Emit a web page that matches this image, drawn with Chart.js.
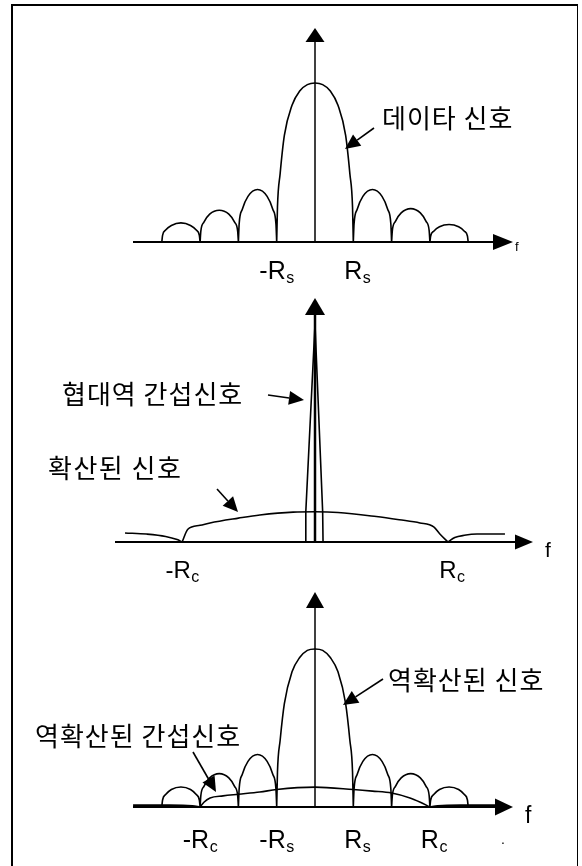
<!DOCTYPE html>
<html>
<head>
<meta charset="utf-8">
<script src="https://cdn.jsdelivr.net/npm/chart.js@4.4.0/dist/chart.umd.min.js"></script>
<style>
html,body{margin:0;padding:0;background:#fff;}
#wrap{position:relative;width:582px;height:866px;overflow:hidden;background:#fff;}
#wrap canvas{position:absolute;left:0;top:0;}
#frame{position:absolute;left:11px;top:4px;width:564px;height:880px;border-left:2px solid #000;border-top:2px solid #000;border-right:1px solid #000;}
</style>
</head>
<body>
<div id="wrap">
  <div id="frame"></div>
  <canvas id="c1" width="582" height="866"></canvas>
  <canvas id="c2" width="582" height="866"></canvas>
  <canvas id="c3" width="582" height="866"></canvas>
</div>
<script>
// ---------- DATA (x in units of Rs, y relative to the data-signal main-lobe peak) ----------
// null = break between lobes
const lobeX = [
  -4, -3.98, -3.9, -3.75, -3.5, -3.25, -3.1, -3.02, -3, null,
  -3, -2.98, -2.9, -2.75, -2.5, -2.25, -2.1, -2.02, -2, null,
  -2, -1.98, -1.9, -1.75, -1.5, -1.25, -1.1, -1.02, -1, null,
  -1, -0.98, -0.91, -0.8, -0.6, -0.4, -0.2, 0, 0.2, 0.4, 0.6, 0.8, 0.91, 0.98, 1, null,
  1, 1.02, 1.1, 1.25, 1.5, 1.75, 1.9, 1.98, 2, null,
  2, 2.02, 2.1, 2.25, 2.5, 2.75, 2.9, 2.98, 3, null,
  3, 3.02, 3.1, 3.25, 3.5, 3.75, 3.9, 3.98, 4
];
// panel 1: data signal
const dataSignalY = [
  0, 0.042, 0.075, 0.104, 0.12, 0.104, 0.075, 0.042, 0, null,
  0, 0.07, 0.125, 0.175, 0.2, 0.175, 0.125, 0.07, 0, null,
  0, 0.115, 0.205, 0.287, 0.33, 0.287, 0.205, 0.115, 0, null,
  0, 0.22, 0.43, 0.67, 0.86, 0.95, 0.99, 1, 0.99, 0.95, 0.86, 0.67, 0.43, 0.22, 0, null,
  0, 0.115, 0.205, 0.287, 0.33, 0.287, 0.205, 0.115, 0, null,
  0, 0.073, 0.13, 0.183, 0.21, 0.183, 0.13, 0.073, 0, null,
  0, 0.038, 0.068, 0.096, 0.11, 0.096, 0.068, 0.038, 0
];
// panel 2: spread signal (broad, low) and narrowband interference (tall spike)
const spreadX = [
  -4.96, -4.4, -3.9, -3.6, -3.47, null,
  -3.47, -3.32, -3.0, -2.74, -2.0, -1.44, -0.57, 0, 0.6, 1.6, 2.2, 2.74, 3.1, 3.26, 3.47, null,
  3.47, 3.65, 3.9, 4.23, 4.96
];
const spreadY = [
  0.057, 0.05, 0.035, 0.015, 0, null,
  0, 0.08, 0.105, 0.12, 0.15, 0.17, 0.188, 0.19, 0.186, 0.16, 0.14, 0.12, 0.095, 0.05, 0, null,
  0, 0.028, 0.042, 0.05, 0.05
];
const jammerX = [-0.25, -0.24, 0, 0.2, 0.21];
const jammerY = [0, 0.19, 1.37, 0.19, 0];
// panel 3: despread signal and despread interference
const despreadY = [
  0, 0.044, 0.078, 0.11, 0.126, 0.11, 0.078, 0.044, 0, null,
  0, 0.073, 0.13, 0.183, 0.21, 0.183, 0.13, 0.073, 0, null,
  0, 0.115, 0.205, 0.287, 0.33, 0.287, 0.205, 0.115, 0, null,
  0, 0.22, 0.42, 0.65, 0.85, 0.94, 0.985, 0.994, 0.985, 0.94, 0.85, 0.65, 0.42, 0.22, 0, null,
  0, 0.115, 0.205, 0.287, 0.33, 0.287, 0.205, 0.115, 0, null,
  0, 0.073, 0.13, 0.183, 0.21, 0.183, 0.13, 0.073, 0, null,
  0, 0.044, 0.078, 0.11, 0.126, 0.11, 0.078, 0.044, 0
];
const despreadJamX = [-4.75, -3.8, -3.2, -3, null, -3, -2.9, -2.74, -2.4, -2, -1.44, -1, 0, 1, 1.5, 2, 2.48, 2.75, 3, null, 3, 3.2, 3.8, 4.9];
const despreadJamY = [0.012, 0.012, 0.008, 0, null, 0, 0.03, 0.057, 0.07, 0.08, 0.094, 0.11, 0.125, 0.11, 0.1, 0.088, 0.057, 0.03, 0, null, 0, 0.008, 0.012, 0.012];

// tick labels
const ticks1Values = [-1, 1];
const ticks1Labels = ['-R', 'R'];
const ticks1Subs = ['s', 's'];
const ticks2Values = [-3.47, 3.47];
const ticks2Labels = ['-R', 'R'];
const ticks2Subs = ['c', 'c'];
const ticks3Values = [-3, -1, 1, 3];
const ticks3Labels = ['-R', '-R', 'R', 'R'];
const ticks3Subs = ['c', 's', 's', 'c'];

// ---------- LAYOUT ----------
const W = 582, H = 866, X0 = 315, PX_PER_X = 38.3, PX_PER_Y = 159;
const KFONT = '"Noto Sans CJK KR", "Noto Sans", sans-serif';
const LFONT = '"Liberation Sans", Arial, sans-serif';

function pts(xs, ys) {
  return xs.map((x, i) => x === null ? { x: xs[i - 1], y: null } : { x: x, y: ys[i] });
}

const diagramPlugin = {
  id: 'diagram',
  afterDatasetsDraw(chart, args, o) {
    const ctx = chart.ctx, a = chart.chartArea, xs = chart.scales.x, ys = chart.scales.y;
    const by = ys.getPixelForValue(0), ax = xs.getPixelForValue(0);
    ctx.save();
    ctx.fillStyle = '#000'; ctx.strokeStyle = '#000';
    ctx.lineCap = 'butt';
    // horizontal axis
    ctx.lineWidth = 2;
    ctx.beginPath(); ctx.moveTo(a.left, by); ctx.lineTo(a.right - o.hHead[0] + 1, by); ctx.stroke();
    ctx.beginPath(); ctx.moveTo(a.right, by);
    ctx.lineTo(a.right - o.hHead[0], by - o.hHead[1]); ctx.lineTo(a.right - o.hHead[0], by + o.hHead[1]);
    ctx.closePath(); ctx.fill();
    // vertical axis
    ctx.lineWidth = o.vWidth || 1.5;
    ctx.beginPath(); ctx.moveTo(ax, by); ctx.lineTo(ax, a.top + o.vHead[0] - 1); ctx.stroke();
    ctx.beginPath(); ctx.moveTo(ax, a.top);
    ctx.lineTo(ax - o.vHead[1], a.top + o.vHead[0]); ctx.lineTo(ax + o.vHead[1], a.top + o.vHead[0]);
    ctx.closePath(); ctx.fill();
    // tick labels R_s / R_c
    ctx.textBaseline = 'alphabetic';
    o.tickValues.forEach((v, i) => {
      const cx = xs.getPixelForValue(v);
      const lab = o.tickLabels[i];
      const neg = lab[0] === '-';
      ctx.font = '400 ' + o.rSize + 'px ' + LFONT;
      const rw = ctx.measureText('R').width;
      const left = cx - rw / 2;
      ctx.textAlign = 'left';
      ctx.fillText('R', left, by + o.labelDy);
      if (neg) { ctx.textAlign = 'right'; ctx.fillText('-', left, by + o.labelDy); }
      ctx.textAlign = 'left';
      ctx.font = '400 ' + o.subSize + 'px ' + LFONT;
      ctx.fillText(o.tickSubs[i], left + rw + 0.5, by + o.labelDy + 4);
    });
    // extra texts
    (o.texts || []).forEach(t => {
      ctx.font = '400 ' + t.size + 'px ' + (t.latin ? LFONT : KFONT);
      ctx.letterSpacing = (t.ls || 0) + 'px';
      ctx.textAlign = 'left';
      ctx.textBaseline = t.latin ? 'alphabetic' : 'middle';
      ctx.fillText(t.text, t.x, t.y);
      ctx.letterSpacing = '0px';
    });
    // pointer arrows
    (o.arrows || []).forEach(p => {
      const [x1, y1, x2, y2] = p;
      const ang = Math.atan2(y2 - y1, x2 - x1);
      const L = 15, hw = 7;
      const bx = x2 - L * Math.cos(ang), byy = y2 - L * Math.sin(ang);
      ctx.lineWidth = 1.6;
      ctx.beginPath(); ctx.moveTo(x1, y1); ctx.lineTo(bx, byy); ctx.stroke();
      ctx.beginPath(); ctx.moveTo(x2, y2);
      ctx.lineTo(bx + hw * Math.sin(ang), byy - hw * Math.cos(ang));
      ctx.lineTo(bx - hw * Math.sin(ang), byy + hw * Math.cos(ang));
      ctx.closePath(); ctx.fill();
    });
    ctx.restore();
  }
};

function curve(data, smooth) {
  return {
    data: data, borderColor: '#000', borderWidth: 1.6, pointRadius: 0, fill: false,
    cubicInterpolationMode: smooth ? 'monotone' : 'default', tension: 0, clip: false, spanGaps: false
  };
}

function makePanel(id, lay, datasets, diag) {
  new Chart(document.getElementById(id), {
    type: 'line',
    data: { datasets: datasets },
    options: {
      responsive: false, animation: false, events: [],
      layout: { padding: { left: lay.left, right: W - lay.tip, top: lay.top, bottom: H - lay.base } },
      scales: {
        x: { type: 'linear', display: false, min: (lay.left - X0) / PX_PER_X, max: (lay.tip - X0) / PX_PER_X },
        y: { type: 'linear', display: false, min: 0, max: (lay.base - lay.top) / PX_PER_Y }
      },
      plugins: { legend: { display: false }, tooltip: { enabled: false }, diagram: diag }
    },
    plugins: [diagramPlugin]
  });
}

// Panel 1: data signal
makePanel('c1', { left: 133, tip: 513, top: 28, base: 242 },
  [curve(pts(lobeX, dataSignalY), true)],
  {
    hHead: [20, 8], vHead: [14, 9.5],
    tickValues: ticks1Values, tickLabels: ticks1Labels, tickSubs: ticks1Subs,
    rSize: 25, subSize: 16, labelDy: 37,
    texts: [
      { text: '데이타 신호', x: 382, y: 118, size: 26, ls: 1 },
      { text: 'f', x: 515, y: 251, size: 13, latin: true }
    ],
    arrows: [[374, 128, 345, 149]]
  });

// Panel 2: spread signal + narrowband interference
makePanel('c2', { left: 115, tip: 533, top: 298, base: 542 },
  [curve(pts(spreadX, spreadY), true), curve(pts(jammerX, jammerY), false)],
  {
    hHead: [18, 7.5], vHead: [17, 10], vWidth: 2.5,
    tickValues: ticks2Values, tickLabels: ticks2Labels, tickSubs: ticks2Subs,
    rSize: 24, subSize: 16, labelDy: 36,
    texts: [
      { text: '협대역 간섭신호', x: 62, y: 394, size: 26, ls: 1 },
      { text: '확산된 신호', x: 48, y: 468, size: 26, ls: 1.5 },
      { text: 'f', x: 545, y: 557, size: 21, latin: true }
    ],
    arrows: [[268, 395, 304, 400], [217, 489, 238, 512]]
  });

// Panel 3: despread signal + despread interference
makePanel('c3', { left: 133, tip: 513, top: 592, base: 807 },
  [curve(pts(lobeX, despreadY), true), curve(pts(despreadJamX, despreadJamY), true)],
  {
    hHead: [18, 8.5], vHead: [16, 9],
    tickValues: ticks3Values, tickLabels: ticks3Labels, tickSubs: ticks3Subs,
    rSize: 25, subSize: 16, labelDy: 41,
    texts: [
      { text: '역확산된 신호', x: 388, y: 680, size: 26, ls: 1 },
      { text: '역확산된 간섭신호', x: 35, y: 736, size: 26, ls: 1 },
      { text: 'f', x: 525, y: 823, size: 23, latin: true },
      { text: '.', x: 501, y: 844, size: 14, latin: true }
    ],
    arrows: [[383, 679, 343, 705], [193, 752, 216, 792]]
  });
</script>
</body>
</html>
